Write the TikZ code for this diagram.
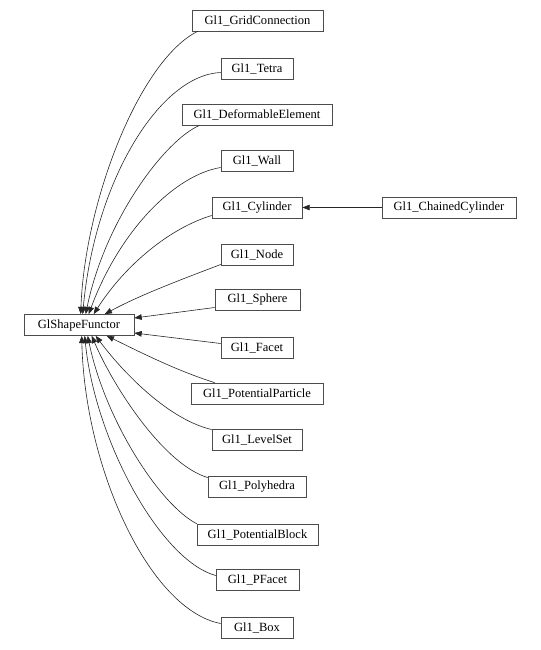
\documentclass[tikz,border=0pt]{standalone}
\usepackage{fontspec}
\setmainfont{Liberation Serif}
\usetikzlibrary{arrows.meta,calc}
\tikzset{
  cls/.style={draw=gray!60!black, line width=0.5pt, fill=white, minimum height=15.75pt,
              inner sep=0pt, font=\fontsize{9.4}{11}\selectfont},
  wd/.style={minimum width=#1*0.75pt},
  arr/.style={draw=black!85, line width=0.45pt, -{Triangle[length=5.5pt,width=4.2pt]}},
}
\begin{document}
\begin{tikzpicture}[x=0.75pt,y=-0.75pt]
\useasboundingbox (0,0) rectangle (541,650);
\node[cls,wd=110] (gsf) at (79,325) {GlShapeFunctor};
\node[cls,wd=131] (grid) at (257.5,20.5) {Gl1\_GridConnection};
\node[cls,wd=72] (tetra) at (257,68.5) {Gl1\_Tetra};
\node[cls,wd=150] (deform) at (257,114.5) {Gl1\_DeformableElement};
\node[cls,wd=72] (wall) at (257,160.5) {Gl1\_Wall};
\node[cls,wd=90] (cyl) at (257,207.5) {Gl1\_Cylinder};
\node[cls,wd=134] (chain) at (449,207.5) {Gl1\_ChainedCylinder};
\node[cls,wd=72] (nodec) at (257,254.5) {Gl1\_Node};
\node[cls,wd=85] (sphere) at (257.5,299.5) {Gl1\_Sphere};
\node[cls,wd=72] (facet) at (257,347.5) {Gl1\_Facet};
\node[cls,wd=132] (potpart) at (257,393.5) {Gl1\_PotentialParticle};
\node[cls,wd=90] (level) at (257,439.5) {Gl1\_LevelSet};
\node[cls,wd=98] (poly) at (257,486.5) {Gl1\_Polyhedra};
\node[cls,wd=121] (potblock) at (257.5,534.5) {Gl1\_PotentialBlock};
\node[cls,wd=83] (pfacet) at (257.5,579.5) {Gl1\_PFacet};
\node[cls,wd=72] (box) at (257,627.5) {Gl1\_Box};

\draw[arr] (chain.west) -- (cyl.east);

\draw[arr] ($(grid.south west)+(6,0)$) .. controls (140,60) and (85,200) .. ($(gsf.north west)+(57,0)$);
\draw[arr] ($(tetra.west)+(0,4)$) .. controls (160,75) and (95,180) .. ($(gsf.north west)+(59,0)$);
\draw[arr] ($(deform.south west)+(18,0)$) .. controls (165,140) and (105,220) .. ($(gsf.north west)+(62,0)$);
\draw[arr] ($(wall.west)+(0,7)$) .. controls (175,175) and (120,230) .. ($(gsf.north west)+(65,0)$);
\draw[arr] ($(cyl.west)+(0,8)$) .. controls (170,228) and (125,265) .. ($(gsf.north west)+(70,0)$);
\draw[arr] ($(nodec.west)+(0,10)$) .. controls (180,280) and (140,295) .. ($(gsf.north west)+(81,0)$);
\draw[arr] ($(sphere.west)+(0,8)$) -- ($(gsf.east)+(0,-7)$);
\draw[arr] ($(facet.west)+(0,-4)$) -- ($(gsf.east)+(0,8)$);
\draw[arr] ($(potpart.north west)+(24,0)$) .. controls (175,370) and (140,352) .. ($(gsf.south west)+(83,0)$);
\draw[arr] ($(level.west)+(0,-10)$) .. controls (170,420) and (125,375) .. ($(gsf.south west)+(72,0)$);
\draw[arr] ($(poly.west)+(0,-9)$) .. controls (165,465) and (115,390) .. ($(gsf.south west)+(68,0)$);
\draw[arr] (potblock.north west) .. controls (160,505) and (105,420) .. ($(gsf.south west)+(64,0)$);
\draw[arr] ($(pfacet.west)+(0,-4)$) .. controls (160,560) and (95,440) .. ($(gsf.south west)+(61,0)$);
\draw[arr] ($(box.west)+(0,-4)$) .. controls (150,610) and (85,470) .. ($(gsf.south west)+(58,0)$);
\end{tikzpicture}
\end{document}
